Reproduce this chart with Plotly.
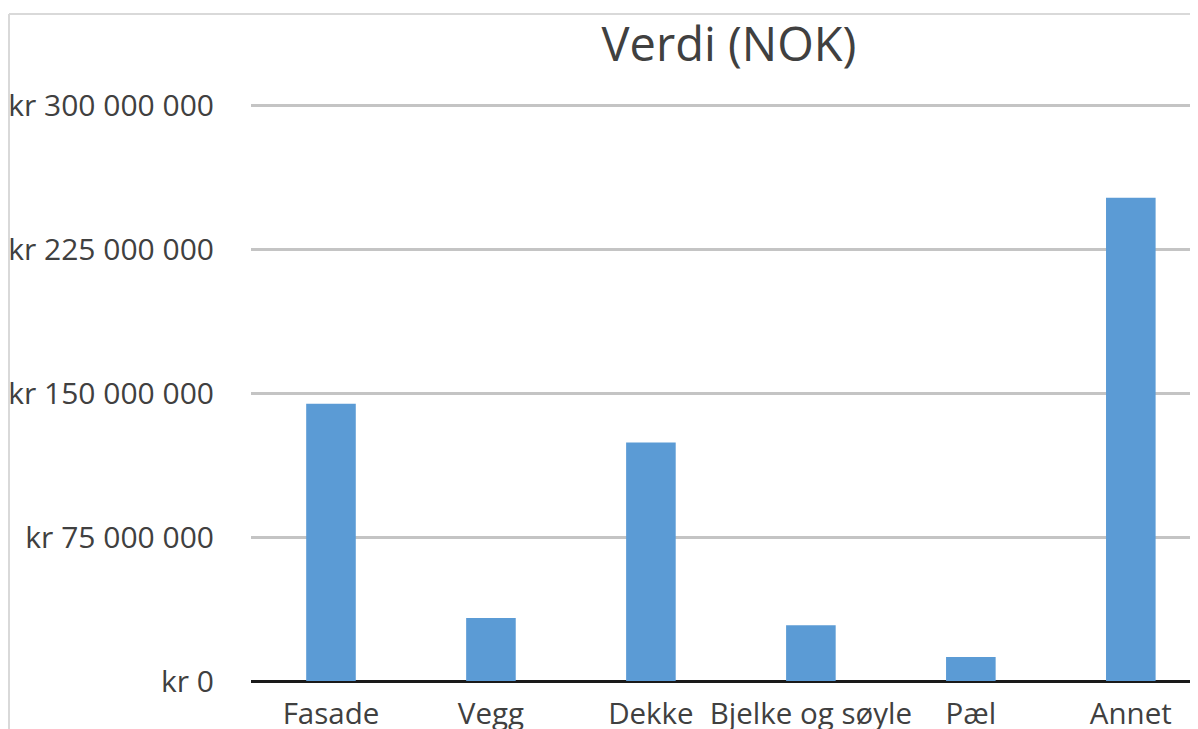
import plotly.graph_objects as go

categories = ["Fasade", "Vegg", "Dekke", "Bjelke og søyle", "Pæl", "Annet"]
values = [144_500_000, 32_800_000, 124_300_000, 29_100_000, 12_500_000, 251_700_000]
tick_vals = [0, 75_000_000, 150_000_000, 225_000_000, 300_000_000]
tick_text = ["kr 0", "kr 75 000 000", "kr 150 000 000", "kr 225 000 000", "kr 300 000 000"]

W, H = 1198, 729
L, R, T, B = 243, 0, 96, 56
FONT = "Open Sans"

fig = go.Figure(go.Bar(x=categories, y=values, marker_color="#5b9bd5", marker_line_width=0))

pw = W - L - R
ph = H - T - B
def px_x(p):
    return (p - L) / pw
def px_y(p):
    return (H - B - p) / ph

fig.add_shape(type="line", xref="paper", yref="paper", x0=px_x(1), x1=px_x(W + 5),
              y0=px_y(6), y1=px_y(6), line=dict(color="#d9d9d9", width=2), layer="below")
fig.add_shape(type="line", xref="paper", yref="paper", x0=px_x(1), x1=px_x(1),
              y0=px_y(6), y1=px_y(H + 5), line=dict(color="#d9d9d9", width=2), layer="below")

fig.update_layout(
    width=W, height=H,
    margin=dict(l=L, r=R, t=T, b=B, autoexpand=False),
    paper_bgcolor="white", plot_bgcolor="white",
    bargap=0.69,
    showlegend=False,
    font=dict(family=FONT, color="#404040", size=29),
    title=dict(text="Verdi (NOK)", x=px_x(721), xref="paper", xanchor="center",
               y=1 - 37 / H, yanchor="middle", font=dict(size=47, family=FONT, color="#404040")),
    xaxis=dict(range=[-0.5, 5.47], showgrid=False, showline=False, zeroline=False,
               tickfont=dict(size=29.5, family=FONT, color="#404040"), ticks="",
               ticklabelstandoff=12),
    yaxis=dict(range=[0, 300_600_000], tickvals=tick_vals, ticktext=tick_text,
               showgrid=True, gridcolor="#c4c4c4", gridwidth=3,
               zeroline=True, zerolinecolor="#1a1a1a", zerolinewidth=3,
               showline=False, ticks="", ticklabelstandoff=36,
               tickfont=dict(size=30, family=FONT, color="#404040")),
)

fig.write_html("out.html")
